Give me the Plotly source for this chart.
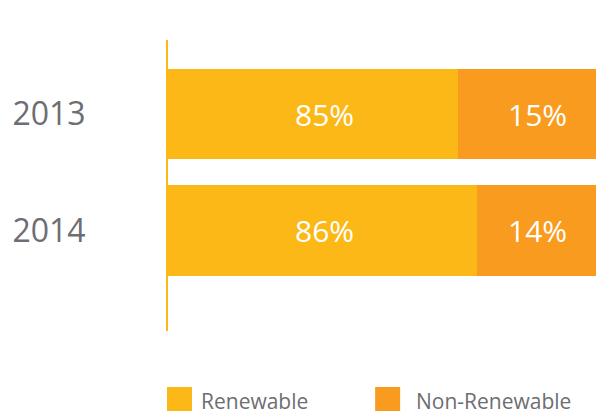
import plotly.graph_objects as go

years = ["2013", "2014"]
renewable = [85, 86]
non_renewable = [15, 14]
series_names = ["Renewable", "Non-Renewable"]
colors = ["#FBB817", "#F89B1F"]

ypos = list(range(len(years)))

fig = go.Figure()
for name, vals, col in zip(series_names, [renewable, non_renewable], colors):
    fig.add_trace(go.Bar(
        y=ypos, x=vals, orientation="h", name=name,
        marker=dict(color=col, line=dict(width=0)),
        showlegend=False, width=0.78, hoverinfo="skip",
    ))

# value labels (text from data, fixed horizontal label columns as in the infographic)
label_cols = [0.366, 0.864]
for col_x, vals in zip(label_cols, [renewable, non_renewable]):
    for yi, v in zip(ypos, vals):
        fig.add_annotation(xref="paper", yref="y", x=col_x, y=yi, text=f"{v}%",
                           showarrow=False, xanchor="center", yanchor="middle",
                           font=dict(family="Open Sans", size=30, color="white"))

# legend drawn as shapes + text
leg_sq = [-0.0023, 0.484]
leg_tx = [0.0724, 0.5748]
for i, (name, col) in enumerate(zip(series_names, colors)):
    fig.add_shape(type="rect", xref="paper", yref="paper",
                  x0=leg_sq[i], x1=leg_sq[i] + 0.0584, y0=-0.1924, y1=-0.275,
                  fillcolor=col, line=dict(width=0))
    fig.add_annotation(xref="paper", yref="paper", x=leg_tx[i], y=-0.242,
                       text=name, showarrow=False, xanchor="left", yanchor="middle",
                       font=dict(family="Open Sans", size=21, color="#6d6e71"))

fig.update_layout(
    barmode="stack",
    width=596, height=411,
    margin=dict(l=168, r=0, t=40, b=80),
    plot_bgcolor="white", paper_bgcolor="white",
    bargap=0,
)
fig.update_xaxes(range=[69.75, 92.28], visible=False, fixedrange=True)
fig.update_yaxes(range=[1.866, -0.638], tickvals=ypos, ticktext=years,
                 showgrid=False, zeroline=False, showline=True,
                 linecolor="#FBB817", linewidth=2, ticks="",
                 ticklabelstandoff=74, fixedrange=True,
                 tickfont=dict(family="Open Sans", size=32, color="#6d6e71"))

fig.write_html("out.html", config={"displayModeBar": False},
               post_script="document.body.style.margin='0';document.body.style.overflow='hidden';")
